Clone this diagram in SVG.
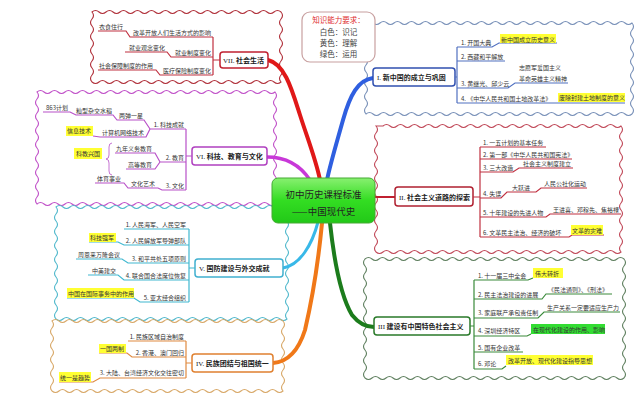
<svg xmlns="http://www.w3.org/2000/svg" width="640" height="400" viewBox="0 0 640 400">
<style>
.t{font-family:"Noto Sans CJK SC","Noto Sans",sans-serif;font-size:6px;fill:#333}
.e{text-anchor:end}
.b{font-family:"Noto Sans CJK SC","Noto Sans",sans-serif;font-size:7px;font-weight:bold;fill:#222}
.rn{font-family:"Liberation Serif",serif;font-weight:normal}
.cl{fill:none;stroke-width:1.1}
.u{fill:none;stroke-width:1.2}
.hy{fill:#ffff33}
.hg{fill:#33dd33}
.bx{fill:#fff;stroke-width:1.5}
.k{font-family:"Noto Sans CJK SC",serif;font-size:7.5px;fill:#444;text-anchor:middle}
</style>
<defs>
<linearGradient id="gg" x1="0" y1="0" x2="0" y2="1">
<stop offset="0" stop-color="#88f070"/>
<stop offset="0.5" stop-color="#33dd22"/>
<stop offset="1" stop-color="#22c818"/>
</linearGradient>
</defs>
<rect width="640" height="400" fill="#fff"/>

<g id="clouds">
<path class="cl" stroke="#b0303a" d="M92,12 q3.5,-3 7,0 t7,0 t7,0 t7,0 t7,0 t7,0 t7,0 t7,0 t7,0 t7,0 t7,0 t7,0 t7,0 t7,0 t7,0 t7,0 t7,0 t7,0 t7,0 t7,0 t7,0 t7,0 t7,0 t7,0 t7,0 t7,0 t7,0 q3,3.5 0,7 t0,7 t0,7 t0,7 t0,7 t0,7 t0,7 t0,7 t0,7 t0,7 q-3.5,3 -7,0 t-7,0 t-7,0 t-7,0 t-7,0 t-7,0 t-7,0 t-7,0 t-7,0 t-7,0 t-7,0 t-7,0 t-7,0 t-7,0 t-7,0 t-7,0 t-7,0 t-7,0 t-7,0 t-7,0 t-7,0 t-7,0 t-7,0 t-7,0 t-7,0 t-7,0 t-7,0 q-3,-3.5 0,-7 t0,-7 t0,-7 t0,-7 t0,-7 t0,-7 t0,-7 t0,-7 t0,-7 t0,-7 Z"/>
<path class="cl" stroke="#c050c8" d="M37,92 q3.5,-3 7,0 t7,0 t7,0 t7,0 t7,0 t7,0 t7,0 t7,0 t7,0 t7,0 t7,0 t7,0 t7,0 t7,0 t7,0 t7,0 t7,0 t7,0 t7,0 t7,0 t7,0 t7,0 t7,0 t7,0 t7,0 t7,0 t7,0 t7,0 t7,0 t7,0 t7,0 t7,0 t7,0 t7,0 q3,3.5 0,7 t0,7 t0,7 t0,7 t0,7 t0,7 t0,7 t0,7 t0,7 t0,7 t0,7 t0,7 t0,7 t0,7 t0,7 t0,7 q-3.5,3 -7,0 t-7,0 t-7,0 t-7,0 t-7,0 t-7,0 t-7,0 t-7,0 t-7,0 t-7,0 t-7,0 t-7,0 t-7,0 t-7,0 t-7,0 t-7,0 t-7,0 t-7,0 t-7,0 t-7,0 t-7,0 t-7,0 t-7,0 t-7,0 t-7,0 t-7,0 t-7,0 t-7,0 t-7,0 t-7,0 t-7,0 t-7,0 t-7,0 t-7,0 q-3,-3.5 0,-7 t0,-7 t0,-7 t0,-7 t0,-7 t0,-7 t0,-7 t0,-7 t0,-7 t0,-7 t0,-7 t0,-7 t0,-7 t0,-7 t0,-7 t0,-7 Z"/>
<path class="cl" stroke="#50b8cc" d="M56,207 q3.5,-3 7,0 t7,0 t7,0 t7,0 t7,0 t7,0 t7,0 t7,0 t7,0 t7,0 t7,0 t7,0 t7,0 t7,0 t7,0 t7,0 t7,0 t7,0 t7,0 t7,0 t7,0 t7,0 t7,0 t7,0 t7,0 t7,0 t7,0 t7,0 t7,0 t7,0 t7,0 t7,0 t7,0 q3,3.5 0,7 t0,7 t0,7 t0,7 t0,7 t0,7 t0,7 t0,7 t0,7 t0,7 t0,7 t0,7 t0,7 t0,7 t0,7 t0,7 q-3.5,3 -7,0 t-7,0 t-7,0 t-7,0 t-7,0 t-7,0 t-7,0 t-7,0 t-7,0 t-7,0 t-7,0 t-7,0 t-7,0 t-7,0 t-7,0 t-7,0 t-7,0 t-7,0 t-7,0 t-7,0 t-7,0 t-7,0 t-7,0 t-7,0 t-7,0 t-7,0 t-7,0 t-7,0 t-7,0 t-7,0 t-7,0 t-7,0 t-7,0 q-3,-3.5 0,-7 t0,-7 t0,-7 t0,-7 t0,-7 t0,-7 t0,-7 t0,-7 t0,-7 t0,-7 t0,-7 t0,-7 t0,-7 t0,-7 t0,-7 t0,-7 Z"/>
<path class="cl" stroke="#d8a868" d="M52,321 q3.5,-3 7,0 t7,0 t7,0 t7,0 t7,0 t7,0 t7,0 t7,0 t7,0 t7,0 t7,0 t7,0 t7,0 t7,0 t7,0 t7,0 t7,0 t7,0 t7,0 t7,0 t7,0 t7,0 t7,0 t7,0 t7,0 t7,0 t7,0 t7,0 t7,0 t7,0 t7,0 t7,0 t7,0 q3,3.5 0,7 t0,7 t0,7 t0,7 t0,7 t0,7 t0,7 t0,7 t0,7 t0,7 q-3.5,3 -7,0 t-7,0 t-7,0 t-7,0 t-7,0 t-7,0 t-7,0 t-7,0 t-7,0 t-7,0 t-7,0 t-7,0 t-7,0 t-7,0 t-7,0 t-7,0 t-7,0 t-7,0 t-7,0 t-7,0 t-7,0 t-7,0 t-7,0 t-7,0 t-7,0 t-7,0 t-7,0 t-7,0 t-7,0 t-7,0 t-7,0 t-7,0 t-7,0 q-3,-3.5 0,-7 t0,-7 t0,-7 t0,-7 t0,-7 t0,-7 t0,-7 t0,-7 t0,-7 t0,-7 Z"/>
<path class="cl" stroke="#7890b8" d="M366,23 q3.5,-3 7,0 t7,0 t7,0 t7,0 t7,0 t7,0 t7,0 t7,0 t7,0 t7,0 t7,0 t7,0 t7,0 t7,0 t7,0 t7,0 t7,0 t7,0 t7,0 t7,0 t7,0 t7,0 t7,0 t7,0 t7,0 t7,0 t7,0 t7,0 t7,0 t7,0 t7,0 t7,0 t7,0 t7,0 t7,0 t7,0 t7,0 t7,0 q3,3.5 0,7 t0,7 t0,7 t0,7 t0,7 t0,7 t0,7 t0,7 t0,7 t0,7 t0,7 t0,7 t0,7 q-3.5,3 -7,0 t-7,0 t-7,0 t-7,0 t-7,0 t-7,0 t-7,0 t-7,0 t-7,0 t-7,0 t-7,0 t-7,0 t-7,0 t-7,0 t-7,0 t-7,0 t-7,0 t-7,0 t-7,0 t-7,0 t-7,0 t-7,0 t-7,0 t-7,0 t-7,0 t-7,0 t-7,0 t-7,0 t-7,0 t-7,0 t-7,0 t-7,0 t-7,0 t-7,0 t-7,0 t-7,0 t-7,0 t-7,0 q-3,-3.5 0,-7 t0,-7 t0,-7 t0,-7 t0,-7 t0,-7 t0,-7 t0,-7 t0,-7 t0,-7 t0,-7 t0,-7 t0,-7 Z"/>
<path class="cl" stroke="#c04858" d="M383,126 q3.5,-3 7,0 t7,0 t7,0 t7,0 t7,0 t7,0 t7,0 t7,0 t7,0 t7,0 t7,0 t7,0 t7,0 t7,0 t7,0 t7,0 t7,0 t7,0 t7,0 t7,0 t7,0 t7,0 t7,0 t7,0 t7,0 t7,0 t7,0 t7,0 t7,0 t7,0 t7,0 t7,0 t7,0 t7,0 q3,3.5 0,7 t0,7 t0,7 t0,7 t0,7 t0,7 t0,7 t0,7 t0,7 t0,7 t0,7 t0,7 t0,7 t0,7 t0,7 t0,7 t0,7 t0,7 q-3.5,3 -7,0 t-7,0 t-7,0 t-7,0 t-7,0 t-7,0 t-7,0 t-7,0 t-7,0 t-7,0 t-7,0 t-7,0 t-7,0 t-7,0 t-7,0 t-7,0 t-7,0 t-7,0 t-7,0 t-7,0 t-7,0 t-7,0 t-7,0 t-7,0 t-7,0 t-7,0 t-7,0 t-7,0 t-7,0 t-7,0 t-7,0 t-7,0 t-7,0 t-7,0 t-7,0 q-3,-3.5 0,-7 t0,-7 t0,-7 t0,-7 t0,-7 t0,-7 t0,-7 t0,-7 t0,-7 t0,-7 t0,-7 t0,-7 t0,-7 t0,-7 t0,-7 t0,-7 t0,-7 t0,-7 Z"/>
<path class="cl" stroke="#608060" d="M365,259 q3.5,-3 7,0 t7,0 t7,0 t7,0 t7,0 t7,0 t7,0 t7,0 t7,0 t7,0 t7,0 t7,0 t7,0 t7,0 t7,0 t7,0 t7,0 t7,0 t7,0 t7,0 t7,0 t7,0 t7,0 t7,0 t7,0 t7,0 t7,0 t7,0 t7,0 t7,0 t7,0 t7,0 t7,0 t7,0 t7,0 t7,0 t7,0 q3,3.5 0,7 t0,7 t0,7 t0,7 t0,7 t0,7 t0,7 t0,7 t0,7 t0,7 t0,7 t0,7 t0,7 t0,7 t0,7 t0,7 t0,7 q-3.5,3 -7,0 t-7,0 t-7,0 t-7,0 t-7,0 t-7,0 t-7,0 t-7,0 t-7,0 t-7,0 t-7,0 t-7,0 t-7,0 t-7,0 t-7,0 t-7,0 t-7,0 t-7,0 t-7,0 t-7,0 t-7,0 t-7,0 t-7,0 t-7,0 t-7,0 t-7,0 t-7,0 t-7,0 t-7,0 t-7,0 t-7,0 t-7,0 t-7,0 t-7,0 t-7,0 t-7,0 t-7,0 q-3,-3.5 0,-7 t0,-7 t0,-7 t0,-7 t0,-7 t0,-7 t0,-7 t0,-7 t0,-7 t0,-7 t0,-7 t0,-7 t0,-7 t0,-7 t0,-7 t0,-7 t0,-7 Z"/>
</g>

<g id="connectors" fill="none" stroke-linecap="round">
<path d="M268,60 C285,64 292,90 300,115 C308,140 316,160 320,180" stroke="#e01818" stroke-width="4"/>
<path d="M373,78 C358,80 350,95 343,120 C336,145 330,165 327,180" stroke="#2f5fe0" stroke-width="4"/>
<path d="M267,157 C285,157 300,165 310,180" stroke="#c838d8" stroke-width="3.5"/>
<path d="M283,268 C300,265 312,245 318,222" stroke="#38b8e8" stroke-width="3"/>
<path d="M322,223 C318,265 312,300 305,330 C298,352 287,362 273,363" stroke="#f07818" stroke-width="4"/>
<path d="M330,223 C334,260 340,295 352,315 C360,325 367,327 374,327" stroke="#1c7c1c" stroke-width="4"/>
<path d="M375,197 H395" stroke="#c02030" stroke-width="2"/>
</g>

<g id="center">
<rect x="272" y="178" width="103" height="45" rx="6" fill="url(#gg)" stroke="#44aa33" stroke-width="1"/>
<text x="323.5" y="198" style="font-family:'Noto Sans CJK SC',sans-serif;font-size:9.5px;fill:#222;text-anchor:middle">初中历史课程标准</text>
<text x="323.5" y="215" style="font-family:'Noto Sans CJK SC',sans-serif;font-size:9.5px;fill:#222;text-anchor:middle">——中国现代史</text>
</g>

<g id="legend">
<rect x="302" y="12" width="73" height="50" rx="8" fill="#fff" stroke="#c8a0a0" stroke-width="1.2"/>
<text class="k" x="338.5" y="23" style="fill:#e03030">知识能力要求：</text>
<text class="k" x="338.5" y="35">白色：识记</text>
<text class="k" x="338.5" y="46">黄色：理解</text>
<text class="k" x="338.5" y="57">绿色：运用</text>
</g>

<g id="b1">
<rect class="bx" x="373" y="68" width="82" height="18" rx="3" stroke="#3050b0"/>
<text class="b" x="377" y="80"><tspan class="rn">I.</tspan> 新中国的成立与巩固</text>
<g class="u" stroke="#5070c0">
<path d="M455,77 H457 M457,47 V103 M457,47 H492 L499,43 H557 M457,61 H505 M457,88 H508 L515,83 H568 M457,103 H625"/>
</g>
<rect class="hy" x="500" y="34" width="56" height="9"/>
<text class="t" x="461" y="45">1. 开国大典</text>
<text class="t" x="501" y="41.5">新中国成立历史意义</text>
<text class="t" x="461" y="59">2. 西藏和平解放</text>
<text class="t" x="461" y="86">3. 黄继光、邱少云</text>
<text class="t" x="519" y="70">志愿军爱国主义</text>
<text class="t" x="519" y="81">革命英雄主义精神</text>
<text class="t" x="461" y="101">4. 《中华人民共和国土地改革法》</text>
<rect class="hy" x="558" y="93" width="67" height="9"/>
<text class="t" x="559" y="100">废除封建土地制度的意义</text>
</g>

<g id="b2">
<rect class="bx" x="395" y="187" width="78" height="19" rx="3" stroke="#b02030"/>
<text class="b" x="399" y="199.5"><tspan class="rn">II.</tspan> 社会主义道路的探索</text>
<g class="u" stroke="#c03040">
<path d="M473,197 H480 M480,147 V237 M480,147 H546 M480,159 H572 M480,172 H513 L519,168 H573 M480,198 H501 L507,192 H536 L541,188 H587 M480,217 H546 L550,214 H621 M480,237 H569 L572,235 H604"/>
</g>
<text class="t" x="483" y="145">1. 一五计划的基本任务</text>
<text class="t" x="483" y="157">2. 第一部《中华人民共和国宪法》</text>
<text class="t" x="483" y="170">3. 三大改造</text>
<text class="t" x="523" y="166">社会主义制度建立</text>
<text class="t" x="483" y="196">4. 失误</text>
<text class="t" x="512" y="190">大跃进</text>
<text class="t" x="544" y="186">人民公社化运动</text>
<text class="t" x="483" y="215">5. 十年建设的先进人物</text>
<text class="t" x="553" y="212">王进喜、邓稼先、焦裕禄</text>
<text class="t" x="483" y="235">6. 文革民主法治、经济的破坏</text>
<rect class="hy" x="571" y="225" width="32" height="10"/>
<text class="t" x="572" y="232.5">文革的灾难</text>
</g>

<g id="b3">
<rect class="bx" x="374" y="317" width="96" height="18" rx="3" stroke="#2a7a2a"/>
<text class="b" x="378" y="329"><tspan class="rn">III</tspan> 建设有中国特色社会主义</text>
<g class="u" stroke="#3a8a3a">
<path d="M470,326 H474 M474,280 V369 M474,280 H528 L533,278 M474,299 H542 L546,294 H612 M474,318 H538 L544,312 H620 M474,336 H527 L531,334 M474,352 H523 M474,369 H502 L506,366"/>
</g>
<text class="t" x="478" y="278">1. 十一届三中全会</text>
<rect class="hy" x="533" y="268" width="30" height="10"/>
<text class="t" x="535" y="275.5">伟大转折</text>
<text class="t" x="478" y="297">2. 民主法治建设的进展</text>
<text class="t" x="548" y="292">《民法通则》、《刑法》</text>
<text class="t" x="478" y="315">3. 家庭联产承包责任制</text>
<text class="t" x="547" y="310">生产关系一定要适应生产力</text>
<text class="t" x="478" y="333">4. 深圳经济特区</text>
<rect class="hg" x="531" y="324" width="74" height="10"/>
<text class="t" x="533" y="331.5">在现代化建设的作用、影响</text>
<text class="t" x="478" y="350">5. 国有企业改革</text>
<text class="t" x="478" y="366">6. 邓论</text>
<rect class="hy" x="506" y="355" width="87" height="10"/>
<text class="t" x="508" y="362.5">改革开放、现代化建设指导思想</text>
</g>

<g id="b4">
<rect class="bx" x="192" y="354" width="81" height="18" rx="3" stroke="#e08030"/>
<text class="b" x="196" y="366"><tspan class="rn">IV.</tspan> 民族团结与祖国统一</text>
<g class="u" stroke="#e08a40">
<path d="M192,363 H186 M186,341 V378 M186,341 H128 M186,357 H132 L127,353 H99 M186,378 H100 L93,382 H59"/>
</g>
<text class="t e" x="184" y="339">1. 民族区域自治制度</text>
<text class="t e" x="184" y="355">2. 香港、澳门回归</text>
<rect class="hy" x="99" y="344" width="27" height="9"/>
<text class="t" x="100" y="351">一国两制</text>
<text class="t e" x="184" y="375">3. 大陆、台湾经济文化交往密切</text>
<rect class="hy" x="59" y="372" width="32" height="10"/>
<text class="t" x="60" y="379.5">统一是趋势</text>
</g>

<g id="b5">
<rect class="bx" x="195" y="259" width="88" height="18" rx="3" stroke="#40b0d0"/>
<text class="b" x="199" y="271"><tspan class="rn">V.</tspan> 国防建设与外交成就</text>
<g class="u" stroke="#40b8d0">
<path d="M195,268 H189 M189,229 V302 M189,229 H124 M189,245 H124 L118,242 H89 M189,263 H128 L122,259 H76 M189,280 H124 L118,275 H88 M189,302 H140 L134,298 H67"/>
</g>
<text class="t e" x="186" y="227">1. 人民海军、人民空军</text>
<text class="t e" x="186" y="243">2. 人民解放军导弹部队</text>
<rect class="hy" x="89" y="233" width="27" height="9"/>
<text class="t" x="90" y="240">科技强军</text>
<text class="t e" x="186" y="261">3. 和平共处五项原则</text>
<text class="t e" x="120" y="257">周恩来万隆会议</text>
<text class="t e" x="186" y="278">4. 联合国合法席位恢复</text>
<text class="t e" x="116" y="273">中美建交</text>
<text class="t e" x="186" y="300">5. 亚太经合组织</text>
<rect class="hy" x="67" y="288" width="67" height="10"/>
<text class="t" x="68" y="295.5">中国在国际事务中的作用</text>
</g>

<g id="b6">
<rect class="bx" x="192" y="147" width="75" height="18" rx="3" stroke="#b040c0"/>
<text class="b" x="196" y="159"><tspan class="rn">VI.</tspan> 科技、教育与文化</text>
<g class="u" stroke="#b850c8">
<path d="M192,156 H186 M186,129 V190 M186,129 H150 L144,120 H117 L113,115 H76 L70,112 H43 M150,129 L146,137 H100 L93,136 M186,162 H160 L155,153 H115 M160,162 L155,169 H126 M186,190 H162 L158,188 H128 L124,183 H95"/>
<path d="M112,143 q-3,0 -3,4 v8 q0,4 -3,4 q3,0 3,4 v8 q0,4 3,4" stroke-width="0.8"/>
</g>
<text class="t e" x="184" y="127">1. 科技成就</text>
<text class="t e" x="143" y="118">两弹一星</text>
<text class="t e" x="112" y="113">籼型杂交水稻</text>
<text class="t e" x="68" y="110">863计划</text>
<rect class="hy" x="66" y="126" width="27" height="10"/>
<text class="t" x="67" y="133">信息技术</text>
<text class="t e" x="144" y="135">计算机网络技术</text>
<rect class="hy" x="74" y="148" width="28" height="11"/>
<text class="t" x="76" y="156">科教兴国</text>
<text class="t e" x="152" y="151">九年义务教育</text>
<text class="t e" x="152" y="167">高等教育</text>
<text class="t e" x="184" y="160">2. 教育</text>
<text class="t e" x="121" y="181">体育事业</text>
<text class="t e" x="155" y="186">文化艺术</text>
<text class="t e" x="184" y="188">3. 文化</text>
</g>

<g id="b7">
<rect class="bx" x="220" y="52" width="48" height="16" rx="3" stroke="#c02030"/>
<text class="b" x="223" y="63"><tspan class="rn">VII.</tspan> 社会生活</text>
<g class="u" stroke="#c03040">
<path d="M220,60 H213 M213,37 V75 M213,37 H130 L126,31 H98 M213,57 H171 L167,52 H125 M213,75 H160 L156,70 H98"/>
</g>
<text class="t e" x="211" y="35">改革开放人们生活方式的影响</text>
<text class="t e" x="123" y="29">衣食住行</text>
<text class="t e" x="211" y="55">就业制度变化</text>
<text class="t e" x="165" y="50">就业观念变化</text>
<text class="t e" x="211" y="73">医疗保险制度变化</text>
<text class="t e" x="153" y="68">社会保障制度的作用</text>
</g>
</svg>
